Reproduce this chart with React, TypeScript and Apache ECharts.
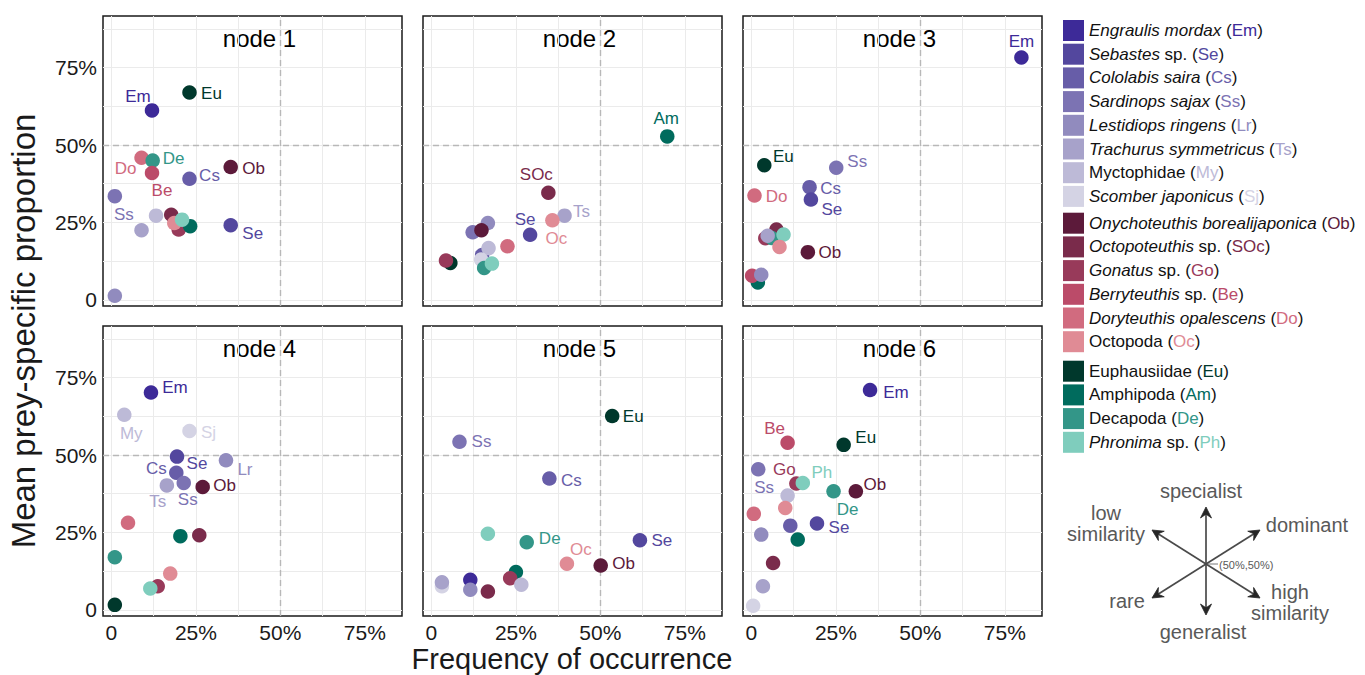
import React, { useEffect, useRef } from "react";
import * as echarts from "echarts";

const FONT = "'Liberation Sans', Arial, Helvetica, sans-serif";

// ---------- DATA ----------
const SPECIES = ["Em", "Se", "Cs", "Ss", "Lr", "Ts", "My", "Sj", "Ob", "SOc", "Go", "Be", "Do", "Oc", "Eu", "Am", "De", "Ph"];
const SPECIES_COLORS = [
  "#3d2a98", "#53479e", "#675da8", "#7c73b3", "#918bbe", "#a7a2ca", "#bdbad7", "#d4d3e4",
  "#5c1a3a", "#7a2b4b", "#983a5a", "#bb4b69", "#d16b7f", "#e08b95",
  "#00382c", "#006b5d", "#339688", "#7fcdbd",
];
const SPECIES_ITALIC = [
  "Engraulis mordax", "Sebastes", "Cololabis saira", "Sardinops sajax", "Lestidiops ringens",
  "Trachurus symmetricus", "", "Scomber japonicus", "Onychoteuthis borealijaponica", "Octopoteuthis",
  "Gonatus", "Berryteuthis", "Doryteuthis opalescens", "", "", "", "", "Phronima",
];
const SPECIES_PLAIN = [
  "", "sp.", "", "", "", "", "Myctophidae", "", "", "sp.", "sp.", "sp.", "", "Octopoda",
  "Euphausiidae", "Amphipoda", "Decapoda", "sp.",
];
const LEGEND_GROUPS = [
  ["Em", "Se", "Cs", "Ss", "Lr", "Ts", "My", "Sj"],
  ["Ob", "SOc", "Go", "Be", "Do", "Oc"],
  ["Eu", "Am", "De", "Ph"],
];

const NODE_TITLES = ["node 1", "node 2", "node 3", "node 4", "node 5", "node 6"];

// [code, frequency of occurrence %, mean prey-specific proportion %]
const NODE1: [string, number, number][] = [
  ["Lr", 1.0, 1.3], ["Ss", 1.0, 33.5], ["Ts", 8.9, 22.5], ["My", 13.2, 27.2], ["Em", 12.0, 61.2],
  ["Eu", 23.1, 67.0], ["Do", 8.9, 45.9], ["De", 12.2, 45.0], ["Be", 12.0, 41.0], ["Cs", 23.1, 39.1],
  ["Ob", 35.3, 42.9], ["SOc", 17.7, 27.5], ["Go", 19.9, 22.7], ["Oc", 18.6, 24.8], ["Am", 23.3, 23.8],
  ["Ph", 20.9, 25.9], ["Se", 35.3, 24.1],
];
const NODE2: [string, number, number][] = [
  ["Am", 69.8, 52.8], ["SOc", 34.6, 34.6], ["Ts", 39.4, 27.2], ["Oc", 35.8, 25.7], ["Se", 29.2, 21.0],
  ["Lr", 16.7, 24.8], ["Ss", 12.2, 21.8], ["Ob", 14.8, 22.5], ["Do", 22.5, 17.3], ["Cs", 15.0, 14.5],
  ["My", 16.9, 16.7], ["Sj", 14.7, 13.0], ["De", 15.6, 10.3], ["Ph", 17.9, 11.7], ["Eu", 5.6, 11.9],
  ["Go", 4.3, 12.7],
];
const NODE3: [string, number, number][] = [
  ["Em", 79.9, 78.3], ["Eu", 3.8, 43.5], ["Ss", 25.1, 42.7], ["Cs", 17.2, 36.4], ["Se", 17.6, 32.4],
  ["Do", 0.9, 33.7], ["Ob", 16.7, 15.4], ["Go", 4.1, 19.9], ["SOc", 7.4, 22.7], ["De", 6.0, 20.0],
  ["Ts", 4.8, 20.7], ["Ph", 9.5, 21.1], ["Oc", 8.3, 17.1], ["Am", 1.9, 5.6], ["Be", 0.2, 7.8],
  ["Lr", 2.9, 8.1],
];
const NODE4: [string, number, number][] = [
  ["Em", 11.7, 70.2], ["My", 3.8, 63.0], ["Sj", 23.1, 57.8], ["Se", 19.4, 49.5], ["Lr", 33.9, 48.3],
  ["Cs", 19.2, 44.3], ["Ts", 16.4, 40.2], ["Ss", 21.4, 41.0], ["Ob", 27.0, 39.7], ["Do", 4.9, 28.1],
  ["Am", 20.4, 23.8], ["SOc", 26.0, 24.1], ["De", 1.0, 17.0], ["Oc", 17.4, 11.7], ["Go", 13.7, 7.6],
  ["Ph", 11.5, 6.9], ["Eu", 1.0, 1.6],
];
const NODE5: [string, number, number][] = [
  ["Eu", 53.5, 62.6], ["Ss", 8.3, 54.3], ["Cs", 34.9, 42.4], ["Ph", 16.7, 24.6], ["De", 28.2, 21.8],
  ["Se", 61.7, 22.5], ["Oc", 40.1, 14.9], ["Ob", 50.1, 14.3], ["Am", 25.0, 12.2], ["Go", 23.3, 10.2],
  ["My", 26.6, 8.1], ["Em", 11.5, 9.7], ["Lr", 11.5, 6.5], ["SOc", 16.7, 5.9], ["Sj", 3.1, 7.6],
  ["Ts", 3.1, 8.9],
];
const NODE6: [string, number, number][] = [
  ["Em", 35.1, 71.0], ["Be", 10.7, 54.0], ["Eu", 27.3, 53.3], ["Ss", 2.0, 45.4], ["Go", 13.3, 40.8],
  ["Ph", 15.2, 41.0], ["Ob", 30.9, 38.3], ["De", 24.3, 38.3], ["My", 10.7, 36.9], ["Oc", 10.0, 32.9],
  ["Do", 0.7, 31.0], ["Cs", 11.5, 27.2], ["Se", 19.4, 27.9], ["Lr", 2.9, 24.3], ["Am", 13.7, 22.7],
  ["SOc", 6.4, 15.1], ["Ts", 3.4, 7.6], ["Sj", 0.5, 1.3],
];
const NODES = [NODE1, NODE2, NODE3, NODE4, NODE5, NODE6];

const X_TICKS = [0, 25, 50, 75];
const Y_TICKS = [0, 25, 50, 75];
const X_GRID = [0, 12.5, 25, 37.5, 50, 62.5, 75];
const Y_GRID = [0, 12.5, 25, 37.5, 50, 62.5, 75, 87.5];
const THRESHOLD = 50;

// ---------- LAYOUT / STYLE ----------
// label offsets (px) of each labelled point, relative to its centre
const LABEL_OFFSETS: Record<string, [number, number]>[] = [
  { Em: [-14, -14], Eu: [22, 1], Do: [-16, 11], De: [21, -2], Be: [10, 18], Cs: [20, -3], Ob: [23, 1], Ss: [9, 18], Se: [22, 8] },
  { Am: [-1, -18], SOc: [-12, -18], Ts: [17, -4], Oc: [4, 18], Se: [-5, -15] },
  { Em: [0, -16], Eu: [19, -9], Ss: [21, -6], Cs: [21, 1], Se: [21, 10], Do: [22, 1], Ob: [22, 0] },
  { Em: [24, -5], My: [7, 19], Sj: [19, 2], Se: [20, 7], Lr: [19, 9], Cs: [-20, -4], Ss: [4, 17], Ts: [-9, 16], Ob: [22, -1] },
  { Eu: [21, 0], Ss: [22, 0], Cs: [22, 2], De: [23, -4], Se: [22, 0], Oc: [14, -14], Ob: [23, -2] },
  { Em: [26, 2], Be: [-13, -14], Eu: [22, -7], Ss: [6, 18], Go: [-12, -14], Ph: [19, -10], Ob: [19, -7], De: [14, 18], Se: [22, 4] },
];

const GRID_LEFTS = [103, 423, 743];
const GRID_TOPS = [16, 326];
const GRID_W = 299;
const GRID_H = 290;

function legendFormatter(name: string) {
  const i = SPECIES.indexOf(name);
  const it = SPECIES_ITALIC[i];
  const pl = SPECIES_PLAIN[i];
  let s = "";
  if (it) s += `{i|${it}}`;
  if (it && pl) s += `{n| ${pl} (}`;
  else if (it) s += `{n| (}`;
  else s += `{n|${pl} (}`;
  s += `{c${i}|${name}}{n|)}`;
  return s;
}

function arrowGraphics() {
  const cx = 1206;
  const cy = 564;
  const tips: [number, number][] = [
    [1206, 507], [1206, 615], [1260, 530], [1152, 530], [1152, 598], [1260, 598],
  ];
  const els: any[] = [];
  tips.forEach(([tx, ty]) => {
    const dx = tx - cx;
    const dy = ty - cy;
    const len = Math.sqrt(dx * dx + dy * dy);
    const ux = dx / len;
    const uy = dy / len;
    const px = -uy;
    const py = ux;
    const L = 11;
    const W = 5.5;
    els.push({
      type: "line",
      shape: { x1: cx, y1: cy, x2: tx - ux * L * 0.6, y2: ty - uy * L * 0.6 },
      style: { stroke: "#4a4a4a", lineWidth: 1.7 },
      silent: true,
    });
    els.push({
      type: "polygon",
      shape: {
        points: [
          [tx, ty],
          [tx - ux * L + px * W, ty - uy * L + py * W],
          [tx - ux * L * 0.65, ty - uy * L * 0.65],
          [tx - ux * L - px * W, ty - uy * L - py * W],
        ],
      },
      style: { fill: "#262626", stroke: "#262626", lineWidth: 0.8 },
      silent: true,
    });
  });
  els.push({
    type: "line",
    shape: { x1: cx + 1, y1: cy, x2: cx + 12, y2: cy },
    style: { stroke: "#555", lineWidth: 0.8 },
    silent: true,
  });
  const txt = (text: string, x: number, y: number, size: number, align = "center") => ({
    type: "text",
    x,
    y,
    silent: true,
    style: {
      text,
      fill: "#595959",
      fontSize: size,
      fontFamily: FONT,
      lineHeight: size + 1,
      align,
      textAlign: align,
      verticalAlign: "middle",
      textVerticalAlign: "middle",
    },
  });
  els.push(txt("specialist", 1201, 491, 20));
  els.push(txt("dominant", 1307, 525, 20));
  els.push(txt("low\nsimilarity", 1106, 523, 20));
  els.push(txt("rare", 1127, 601, 20));
  els.push(txt("high\nsimilarity", 1290, 602, 20));
  els.push(txt("generalist", 1203, 632, 20));
  els.push(txt("(50%,50%)", 1219, 564.5, 11, "left"));
  return els;
}

function buildOption() {
  const grids: any[] = [];
  const xAxes: any[] = [];
  const yAxes: any[] = [];
  const series: any[] = [];
  const graphics: any[] = [];

  for (let n = 0; n < 6; n++) {
    const col = n % 3;
    const row = Math.floor(n / 3);
    grids.push({
      left: GRID_LEFTS[col],
      top: GRID_TOPS[row],
      width: GRID_W,
      height: GRID_H,
      show: true,
      backgroundColor: "#ffffff",
      borderColor: "#1a1a1a",
      borderWidth: 1.5,
      containLabel: false,
    });
    xAxes.push({
      type: "value",
      gridIndex: n,
      min: -2.5,
      max: 86,
      axisLine: { show: false },
      axisTick: { show: false },
      splitLine: { show: false },
      axisLabel: {
        show: row === 1,
        customValues: X_TICKS,
        formatter: (v: number) => (v === 0 ? "0" : `${v}%`),
        fontSize: 21,
        fontFamily: FONT,
        color: "#1a1a1a",
        margin: 6,
      },
    });
    yAxes.push({
      type: "value",
      gridIndex: n,
      min: -2,
      max: 91.7,
      axisLine: { show: false },
      axisTick: { show: false },
      splitLine: { show: false },
      axisLabel: {
        show: col === 0,
        customValues: Y_TICKS,
        formatter: (v: number) => (v === 0 ? "0" : `${v}%`),
        fontSize: 21,
        fontFamily: FONT,
        color: "#1a1a1a",
        margin: 6,
      },
    });

    const offsets = LABEL_OFFSETS[n];
    series.push({
      type: "scatter",
      xAxisIndex: n,
      yAxisIndex: n,
      symbol: "circle",
      symbolSize: 14.5,
      z: 3,
      emphasis: { disabled: true },
      label: { fontSize: 17, fontFamily: FONT },
      data: NODES[n].map(([code, x, y]) => {
        const i = SPECIES.indexOf(code);
        const off = offsets[code];
        return {
          name: code,
          value: [x, y],
          itemStyle: { color: SPECIES_COLORS[i], opacity: 1 },
          label: off
            ? {
                show: true,
                position: "inside",
                offset: off,
                formatter: "{b}",
                color: SPECIES_COLORS[i],
                fontSize: 17,
                fontFamily: FONT,
              }
            : { show: false },
        };
      }),
      markLine: {
        silent: true,
        z: 1,
        symbol: ["none", "none"],
        label: { show: false },
        emphasis: { disabled: true },
        lineStyle: { color: "#ebebeb", width: 1, type: "solid" },
        data: [
          ...X_GRID.map((v) => ({ xAxis: v })),
          ...Y_GRID.map((v) => ({ yAxis: v })),
          { xAxis: THRESHOLD, lineStyle: { color: "#b8b8b8", width: 1.4, type: [6, 4] } },
          { yAxis: THRESHOLD, lineStyle: { color: "#b8b8b8", width: 1.4, type: [6, 4] } },
        ],
      },
    });

    graphics.push({
      type: "text",
      x: GRID_LEFTS[col] + GRID_W / 2 + 7,
      y: GRID_TOPS[row] + 22.5,
      silent: true,
      style: {
        text: NODE_TITLES[n],
        fill: "#000000",
        fontSize: 24,
        fontFamily: FONT,
        align: "center",
        textAlign: "center",
        verticalAlign: "middle",
        textVerticalAlign: "middle",
      },
    });
  }

  // legend-only series (one per species)
  SPECIES.forEach((code, i) => {
    series.push({
      type: "scatter",
      name: code,
      xAxisIndex: 0,
      yAxisIndex: 0,
      data: [],
      itemStyle: { color: SPECIES_COLORS[i], opacity: 1 },
    });
  });

  const rich: any = {
    i: { fontStyle: "italic", fontSize: 17, fontFamily: FONT, color: "#111111" },
    n: { fontSize: 17, fontFamily: FONT, color: "#111111" },
  };
  SPECIES_COLORS.forEach((c, i) => {
    rich[`c${i}`] = { fontSize: 17, fontFamily: FONT, color: c };
  });

  const legendTops = [20, 212.7, 360.7];
  const legends = LEGEND_GROUPS.map((g, k) => ({
    data: g,
    orient: "vertical",
    left: 1063,
    top: legendTops[k],
    padding: 0,
    itemWidth: 21,
    itemHeight: 21,
    itemGap: 2.7,
    icon: "rect",
    selectedMode: false,
    itemStyle: { opacity: 1 },
    formatter: legendFormatter,
    textStyle: { fontSize: 17, fontFamily: FONT, color: "#111111", rich },
  }));

  graphics.push({
    type: "text",
    x: 572,
    y: 659,
    silent: true,
    style: {
      text: "Frequency of occurrence",
      fill: "#1a1a1a",
      fontSize: 29,
      fontFamily: FONT,
      align: "center",
      textAlign: "center",
      verticalAlign: "middle",
      textVerticalAlign: "middle",
    },
  });
  graphics.push({
    type: "text",
    x: 23,
    y: 331,
    rotation: Math.PI / 2,
    silent: true,
    style: {
      text: "Mean prey-specific proportion",
      fill: "#1a1a1a",
      fontSize: 33,
      fontFamily: FONT,
      align: "center",
      textAlign: "center",
      verticalAlign: "middle",
      textVerticalAlign: "middle",
    },
  });

  graphics.push(...arrowGraphics());

  return {
    animation: false,
    backgroundColor: "#ffffff",
    grid: grids,
    xAxis: xAxes,
    yAxis: yAxes,
    legend: legends,
    series,
    graphic: graphics,
  };
}

export default function App() {
  const ref = useRef<HTMLDivElement>(null);
  useEffect(() => {
    if (!ref.current) return;
    const chart = echarts.init(ref.current, null, { renderer: "svg" });
    chart.setOption(buildOption() as any);
    return () => chart.dispose();
  }, []);
  return (
    <div
      ref={ref}
      style={{ position: "absolute", left: 0, top: 0, width: 1365, height: 675, background: "#fff" }}
    />
  );
}
